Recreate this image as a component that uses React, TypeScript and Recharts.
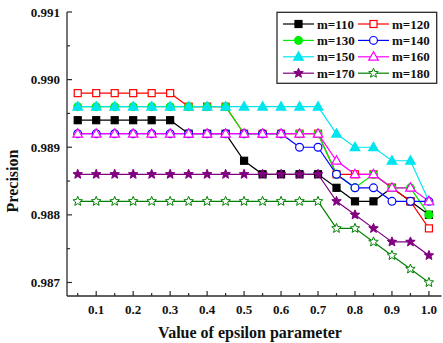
import { LineChart, Line, XAxis, YAxis } from "recharts";

// epsilon values (x)
const epsilon = [
  0.05, 0.1, 0.15, 0.2, 0.25, 0.3, 0.35, 0.4, 0.45, 0.5,
  0.55, 0.6, 0.65, 0.7, 0.75, 0.8, 0.85, 0.9, 0.95, 1.0,
];

// precision per m
const m110 = [
  0.9894, 0.9894, 0.9894, 0.9894, 0.9894, 0.9894, 0.9892, 0.9892, 0.9892, 0.9888,
  0.9886, 0.9886, 0.9886, 0.9886, 0.9884, 0.9882, 0.9882, 0.9884, 0.9882, 0.988,
];
const m120 = [
  0.9898, 0.9898, 0.9898, 0.9898, 0.9898, 0.9898, 0.9896, 0.9896, 0.9896, 0.9892,
  0.9892, 0.9892, 0.9892, 0.9892, 0.9886, 0.9886, 0.9886, 0.9884, 0.9882, 0.9878,
];
const m130 = [
  0.9896, 0.9896, 0.9896, 0.9896, 0.9896, 0.9896, 0.9896, 0.9896, 0.9896, 0.9892,
  0.9892, 0.9892, 0.9892, 0.9892, 0.9886, 0.9884, 0.9886, 0.9884, 0.9884, 0.988,
];
const m140 = [
  0.9892, 0.9892, 0.9892, 0.9892, 0.9892, 0.9892, 0.9892, 0.9892, 0.9892, 0.9892,
  0.9892, 0.9892, 0.989, 0.989, 0.9886, 0.9884, 0.9884, 0.9882, 0.9882, 0.9882,
];
const m150 = [
  0.9896, 0.9896, 0.9896, 0.9896, 0.9896, 0.9896, 0.9896, 0.9896, 0.9896, 0.9896,
  0.9896, 0.9896, 0.9896, 0.9896, 0.9892, 0.989, 0.989, 0.9888, 0.9888, 0.9882,
];
const m160 = [
  0.9892, 0.9892, 0.9892, 0.9892, 0.9892, 0.9892, 0.9892, 0.9892, 0.9892, 0.9892,
  0.9892, 0.9892, 0.9892, 0.9892, 0.9888, 0.9886, 0.9886, 0.9884, 0.9884, 0.9882,
];
const m170 = [
  0.9886, 0.9886, 0.9886, 0.9886, 0.9886, 0.9886, 0.9886, 0.9886, 0.9886, 0.9886,
  0.9886, 0.9886, 0.9886, 0.9886, 0.9882, 0.988, 0.9878, 0.9876, 0.9876, 0.9874,
];
const m180 = [
  0.9882, 0.9882, 0.9882, 0.9882, 0.9882, 0.9882, 0.9882, 0.9882, 0.9882, 0.9882,
  0.9882, 0.9882, 0.9882, 0.9882, 0.9878, 0.9878, 0.9876, 0.9874, 0.9872, 0.987,
];

const xTicks = [
  0.05, 0.1, 0.15, 0.2, 0.25, 0.3, 0.35, 0.4, 0.45, 0.5,
  0.55, 0.6, 0.65, 0.7, 0.75, 0.8, 0.85, 0.9, 0.95, 1.0,
];
const yTicks = [0.987, 0.9875, 0.988, 0.9885, 0.989, 0.9895, 0.99, 0.9905, 0.991];

const series = [
  { key: "m110", name: "m=110", values: m110, color: "#000000", shape: "square", filled: true },
  { key: "m120", name: "m=120", values: m120, color: "#ff0000", shape: "square", filled: false },
  { key: "m130", name: "m=130", values: m130, color: "#00ee00", shape: "circle", filled: true },
  { key: "m140", name: "m=140", values: m140, color: "#0000ff", shape: "circle", filled: false },
  { key: "m150", name: "m=150", values: m150, color: "#00e5ee", shape: "triangle", filled: true },
  { key: "m160", name: "m=160", values: m160, color: "#ff00ff", shape: "triangle", filled: false },
  { key: "m170", name: "m=170", values: m170, color: "#800080", shape: "star", filled: true },
  { key: "m180", name: "m=180", values: m180, color: "#008000", shape: "star", filled: false },
];

const data = epsilon.map((e, i) => {
  const row: any = { eps: e };
  series.forEach((s) => (row[s.key] = s.values[i]));
  return row;
});

const AXIS = "#2b2b2b";
const FONT = '"Liberation Serif", "Times New Roman", serif';

function starPoints(cx: number, cy: number, ro: number, ri: number) {
  const pts: string[] = [];
  for (let k = 0; k < 10; k++) {
    const r = k % 2 === 0 ? ro : ri;
    const a = -Math.PI / 2 + (k * Math.PI) / 5;
    pts.push(`${cx + r * Math.cos(a)},${cy + r * Math.sin(a)}`);
  }
  return pts.join(" ");
}

function Marker({ cx, cy, shape, color, filled }: any) {
  const fill = filled ? color : "#ffffff";
  const sw = 1.2;
  if (shape === "square")
    return <rect x={cx - 3.5} y={cy - 3.5} width={7} height={7} fill={fill} stroke={color} strokeWidth={sw} />;
  if (shape === "circle")
    return <circle cx={cx} cy={cy} r={3.9} fill={fill} stroke={color} strokeWidth={sw} />;
  if (shape === "triangle")
    return (
      <polygon
        points={`${cx},${cy - 5} ${cx + 4.8},${cy + 3.4} ${cx - 4.8},${cy + 3.4}`}
        fill={fill}
        stroke={color}
        strokeWidth={sw}
      />
    );
  return <polygon points={starPoints(cx, cy, 5, 2.2)} fill={fill} stroke={color} strokeWidth={1} />;
}

const isMajorX = (v: number) => Math.round(v * 100) % 10 === 0;
const isMajorY = (v: number) => Math.round(v * 10000) % 10 === 0;

const BottomTick = ({ x, y, payload }: any) => {
  const major = isMajorX(payload.value);
  return (
    <g>
      <line x1={x} x2={x} y1={y} y2={y - (major ? 5 : 3)} stroke={AXIS} strokeWidth={1.2} />
      {major && (
        <text x={x} y={y + 18} textAnchor="middle" fontFamily={FONT} fontWeight="bold" fontSize={13} fill="#111">
          {payload.value.toFixed(1)}
        </text>
      )}
    </g>
  );
};

const TopTick = ({ x, y, payload }: any) => {
  const major = isMajorX(payload.value);
  return <line x1={x} x2={x} y1={y} y2={y + (major ? 5 : 3)} stroke={AXIS} strokeWidth={1.2} />;
};

const LeftTick = ({ x, y, payload }: any) => {
  const major = isMajorY(payload.value);
  return (
    <g>
      <line x1={x} x2={x + (major ? 5 : 3)} y1={y} y2={y} stroke={AXIS} strokeWidth={1.2} />
      {major && (
        <text x={x - 7} y={y + 4.5} textAnchor="end" fontFamily={FONT} fontWeight="bold" fontSize={13} fill="#111">
          {payload.value.toFixed(3)}
        </text>
      )}
    </g>
  );
};

const RightTick = ({ x, y, payload }: any) => {
  const major = isMajorY(payload.value);
  return <line x1={x} x2={x - (major ? 5 : 3)} y1={y} y2={y} stroke={AXIS} strokeWidth={1.2} />;
};

export default function App() {
  const axisLine = { stroke: AXIS, strokeWidth: 1.3 };
  return (
    <div style={{ position: "absolute", left: 0, top: 0, width: 443, height: 343, background: "#fff" }}>
      <LineChart width={443} height={343} data={data} margin={{ top: 12, right: 1.5, bottom: 0, left: 0 }}>
        <XAxis
          dataKey="eps"
          type="number"
          domain={[0.021, 1.034]}
          ticks={xTicks}
          interval={0}
          height={47}
          tickSize={0}
          tickMargin={0}
          tickLine={false}
          tick={<BottomTick />}
          axisLine={axisLine}
          allowDataOverflow
        />
        <XAxis
          xAxisId="top"
          orientation="top"
          dataKey="eps"
          type="number"
          domain={[0.021, 1.034]}
          ticks={xTicks}
          interval={0}
          height={0}
          tickSize={0}
          tickMargin={0}
          tickLine={false}
          tick={<TopTick />}
          axisLine={axisLine}
          allowDataOverflow
        />
        <YAxis
          type="number"
          domain={[0.9868, 0.991]}
          ticks={yTicks}
          interval={0}
          width={67}
          tickSize={0}
          tickMargin={0}
          tickLine={false}
          tick={<LeftTick />}
          axisLine={axisLine}
          allowDataOverflow
        />
        <YAxis
          yAxisId="right"
          orientation="right"
          type="number"
          domain={[0.9868, 0.991]}
          ticks={yTicks}
          interval={0}
          width={0}
          tickSize={0}
          tickMargin={0}
          tickLine={false}
          tick={<RightTick />}
          axisLine={axisLine}
          allowDataOverflow
        />
        {series.map((s) => (
          <Line
            key={s.key}
            dataKey={s.key}
            name={s.name}
            stroke={s.color}
            strokeWidth={1.2}
            isAnimationActive={false}
            dot={(p: any) => (
              <Marker key={`${s.key}-${p.index}`} cx={p.cx} cy={p.cy} shape={s.shape} color={s.color} filled={s.filled} />
            )}
            activeDot={false}
          />
        ))}
      </LineChart>
      <svg
        width={443}
        height={343}
        style={{ position: "absolute", left: 0, top: 0, pointerEvents: "none" }}
      >
        <text x={250} y={338} textAnchor="middle" fontFamily={FONT} fontWeight="bold" fontSize={16} fill="#111">
          Value of epsilon parameter
        </text>
        <text
          transform="translate(17.5,181) rotate(-90)"
          textAnchor="middle"
          fontFamily={FONT}
          fontWeight="bold"
          fontSize={16}
          fill="#111"
        >
          Precision
        </text>
        <rect x={277} y={12.3} width={159.7} height={71} fill="#fff" stroke={AXIS} strokeWidth={1.3} />
        {series.map((s, i) => {
          const col = i % 2;
          const row = Math.floor(i / 2);
          const x0 = col === 0 ? 283 : 358;
          const cy = 24 + row * 16.4;
          return (
            <g key={s.key}>
              <line x1={x0} x2={x0 + 31} y1={cy} y2={cy} stroke={s.color} strokeWidth={1.2} />
              <Marker cx={x0 + 15.5} cy={cy} shape={s.shape} color={s.color} filled={s.filled} />
              <text x={x0 + 34} y={cy + 4.5} fontFamily={FONT} fontWeight="bold" fontSize={13} fill="#111">
                {s.name}
              </text>
            </g>
          );
        })}
      </svg>
    </div>
  );
}
